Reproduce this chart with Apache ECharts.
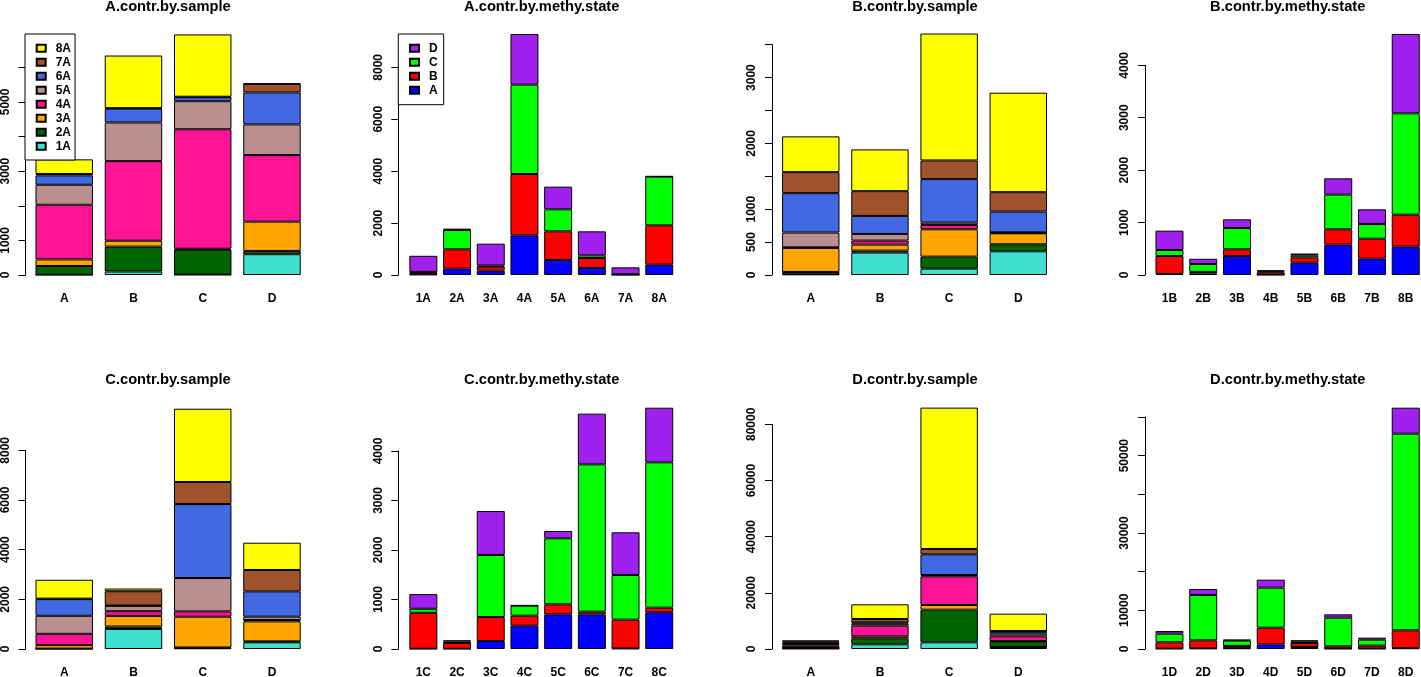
<!DOCTYPE html>
<html>
<head>
<meta charset="utf-8">
<script src="https://cdn.jsdelivr.net/npm/echarts@6/dist/echarts.min.js"></script>
<style>
html, body { margin: 0; padding: 0; background: #fff; }
#chart { width: 1421px; height: 677px; }
</style>
</head>
<body>
<div id="chart"></div>
<script>
// categories
const sampleCats = ['A', 'B', 'C', 'D'];
const stateCatsA = ['1A', '2A', '3A', '4A', '5A', '6A', '7A', '8A'];
const stateCatsB = ['1B', '2B', '3B', '4B', '5B', '6B', '7B', '8B'];
const stateCatsC = ['1C', '2C', '3C', '4C', '5C', '6C', '7C', '8C'];
const stateCatsD = ['1D', '2D', '3D', '4D', '5D', '6D', '7D', '8D'];
const stateNames = ['A', 'B', 'C', 'D'];

// X.contr.by.sample : one row per methy state (1X..8X), columns = sample A..D
const aBySample = [
    [5, 100, 10, 600],
    [255, 720, 720, 95],
    [190, 170, 30, 846],
    [1580, 2300, 3450, 1923],
    [577, 1115, 810, 885],
    [270, 400, 115, 923],
    [40, 15, 15, 250],
    [424, 1520, 1800, 10]
];
const bBySample = [
    [10, 340, 96, 360],
    [36, 30, 183, 107],
    [365, 92, 416, 167],
    [10, 61, 66, 5],
    [224, 101, 36, 10],
    [599, 274, 660, 315],
    [319, 376, 284, 295],
    [544, 635, 1929, 1512]
];
const cBySample = [
    [10, 805, 30, 268],
    [5, 100, 30, 40],
    [140, 429, 1240, 805],
    [457, 188, 215, 54],
    [725, 215, 1342, 134],
    [671, 15, 2979, 1020],
    [20, 575, 886, 859],
    [760, 108, 2952, 1100]
];
const dBySample = [
    [150, 1662, 2374, 712],
    [250, 2136, 11632, 1899],
    [150, 713, 1662, 238],
    [700, 3798, 10208, 1662],
    [500, 712, 475, 949],
    [500, 475, 7360, 713],
    [400, 1187, 1900, 237],
    [400, 5223, 50328, 6172]
];

// X.contr.by.methy.state : one row per sample (A..D), columns = 1X..8X
const aByState = [
    [20, 244, 167, 1528, 578, 270, 10, 398],
    [70, 745, 150, 2362, 1104, 385, 10, 1515],
    [30, 744, 50, 3442, 847, 102, 10, 1875],
    [620, 52, 840, 1951, 874, 925, 265, 20]
];
const bByState = [
    [20, 30, 363, 5, 235, 579, 312, 541],
    [343, 30, 127, 45, 100, 292, 381, 610],
    [114, 150, 407, 20, 40, 662, 280, 1933],
    [369, 100, 165, 20, 35, 311, 280, 1514]
];
const cByState = [
    [5, 5, 162, 471, 700, 700, 10, 741],
    [727, 116, 484, 202, 202, 55, 583, 94],
    [81, 30, 1253, 202, 1334, 2976, 902, 2936],
    [296, 24, 889, 10, 148, 1023, 862, 1104]
];
const dByState = [
    [100, 150, 200, 1207, 517, 100, 100, 200],
    [1624, 2091, 600, 4310, 1035, 590, 762, 4627],
    [2242, 11723, 1400, 10344, 400, 7413, 1552, 50858],
    [689, 1552, 214, 2069, 289, 862, 517, 6724]
];

const sampleColors = ['#40E0D0', '#006400', '#FFA500', '#FF1493', '#BC8F8F', '#4169E1', '#A0522D', '#FFFF00'];
const stateColors = ['#0000FF', '#FF0000', '#00FF00', '#A020F0'];

const FONT = '"Liberation Sans", Arial, Helvetica, sans-serif';

// panel layout (pixels)
const panels = [
    { title: 'A.contr.by.sample', cats: sampleCats, kind: 'sample', letter: 'A', rows: aBySample,
      left: 29.6, width: 277, top: 67.3, height: 207.7, axisX: 25.5, max: 6000, interval: 1000, show: [0, 1000, 3000, 5000], tx: 168, ty: -1 },
    { title: 'A.contr.by.methy.state', cats: stateCatsA, kind: 'state', rows: aByState,
      left: 406.5, width: 269.6, top: 67.3, height: 207.7, axisX: 398.3, max: 8000, interval: 2000, show: null, tx: 541.7, ty: -1 },
    { title: 'B.contr.by.sample', cats: sampleCats, kind: 'sample', letter: 'B', rows: bBySample,
      left: 776.2, width: 276.7, top: 44.7, height: 230.3, axisX: 772, max: 3500, interval: 500, show: [0, 500, 1000, 2000, 3000], tx: 915, ty: -1 },
    { title: 'B.contr.by.methy.state', cats: stateCatsB, kind: 'state', rows: bByState,
      left: 1152.6, width: 270, top: 65.3, height: 209.7, axisX: 1145, max: 4000, interval: 1000, show: null, tx: 1287.7, ty: -1 },
    { title: 'C.contr.by.sample', cats: sampleCats, kind: 'sample', letter: 'C', rows: cBySample,
      left: 29.6, width: 277, top: 450.3, height: 198.7, axisX: 25.5, max: 8000, interval: 2000, show: null, tx: 168, ty: 372 },
    { title: 'C.contr.by.methy.state', cats: stateCatsC, kind: 'state', rows: cByState,
      left: 406.5, width: 269.6, top: 451, height: 198, axisX: 398.3, max: 4000, interval: 1000, show: null, tx: 541.7, ty: 372 },
    { title: 'D.contr.by.sample', cats: sampleCats, kind: 'sample', letter: 'D', rows: dBySample,
      left: 776.2, width: 276.7, top: 424.3, height: 224.7, axisX: 772, max: 80000, interval: 20000, show: null, tx: 915, ty: 372 },
    { title: 'D.contr.by.methy.state', cats: stateCatsD, kind: 'state', rows: dByState,
      left: 1152.6, width: 270, top: 417, height: 232, axisX: 1145, max: 60000, interval: 10000, show: [0, 10000, 30000, 50000], tx: 1287.7, ty: 372 }
];

let grids = [], xAxes = [], yAxes = [], series = [], titles = [];

panels.forEach((p, gi) => {
    grids.push({ left: p.left, top: p.top, width: p.width, height: p.height, containLabel: false, outerBoundsMode: 'none' });
    xAxes.push({
        type: 'category', gridIndex: gi, data: p.cats,
        axisLine: { show: false }, axisTick: { show: false },
        axisLabel: { color: '#000', fontSize: 12, fontWeight: 'bold', fontFamily: FONT, margin: 18, interval: 0 }
    });
    yAxes.push({
        type: 'value', gridIndex: gi, min: 0, max: p.max, interval: p.interval,
        offset: p.left - p.axisX,
        splitLine: { show: false },
        axisLine: { show: true, lineStyle: { color: '#000', width: 1 } },
        axisTick: { show: true, length: 7, lineStyle: { color: '#000' } },
        axisLabel: {
            color: '#000', fontSize: 12, fontWeight: 'bold', fontFamily: FONT, rotate: 90, margin: 14,
            formatter: (v) => (p.show && p.show.indexOf(v) < 0) ? '' : String(v)
        }
    });
    titles.push({
        text: p.title, left: p.tx, top: p.ty, textAlign: 'center', padding: 0,
        textStyle: { fontSize: 14.7, fontWeight: 'bold', fontFamily: FONT, color: '#000' }
    });
    p.rows.forEach((vals, k) => {
        const isSample = p.kind === 'sample';
        series.push({
            type: 'bar',
            name: isSample ? (k + 1) + p.letter : stateNames[k],
            xAxisIndex: gi, yAxisIndex: gi, stack: 'st' + gi,
            data: vals, clip: false, barCategoryGap: '17%',
            itemStyle: { color: isSample ? sampleColors[k] : stateColors[k], borderColor: '#000', borderWidth: 1 },
            emphasis: { disabled: true }
        });
    });
});

const legendText = { fontSize: 12, fontWeight: 'bold', fontFamily: FONT, color: '#000', lineHeight: 14, padding: [0, 0, 0, 5] };

const chart = echarts.init(document.getElementById('chart'), null, { renderer: 'canvas' });
chart.setOption({
    animation: false,
    backgroundColor: '#fff',
    title: titles,
    legend: [
        {
            data: ['8A', '7A', '6A', '5A', '4A', '3A', '2A', '1A'],
            orient: 'vertical', left: 25, top: 34, selectedMode: false,
            backgroundColor: '#fff', borderColor: '#000', borderWidth: 1,
            padding: [7.3, 4, 6.7, 10.7], itemWidth: 9, itemHeight: 7, itemGap: 0, icon: 'rect',
            textStyle: legendText
        },
        {
            data: ['D', 'C', 'B', 'A'],
            orient: 'vertical', left: 398.3, top: 34, selectedMode: false,
            backgroundColor: '#fff', borderColor: '#000', borderWidth: 1,
            padding: [7.3, 6, 7.4, 10.7], itemWidth: 9, itemHeight: 7, itemGap: 0, icon: 'rect',
            textStyle: legendText
        }
    ],
    grid: grids,
    xAxis: xAxes,
    yAxis: yAxes,
    series: series
});
</script>
</body>
</html>
